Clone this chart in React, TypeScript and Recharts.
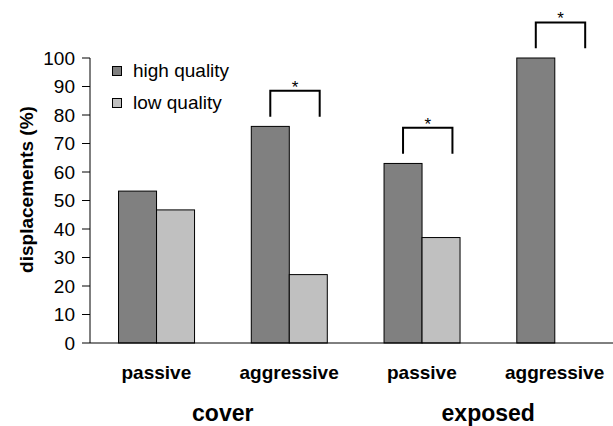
import { BarChart, Bar, XAxis, YAxis, Legend, Label } from 'recharts'

// displacement outcomes per habitat / contest type
const conditions = ['passive', 'aggressive', 'passive', 'aggressive']
const habitats = ['cover', 'cover', 'exposed', 'exposed']
const highQuality = [53.3, 76, 63, 100]
const lowQuality = [46.7, 24, 37, 0]
const significant = [false, true, true, true]
const yTicks = [0, 10, 20, 30, 40, 50, 60, 70, 80, 90, 100]

const data = conditions.map((condition, i) => ({
  condition,
  habitat: habitats[i],
  high: highQuality[i],
  low: lowQuality[i],
  sig: significant[i],
}))

const FONT = '"Liberation Sans", Arial, Helvetica, sans-serif'
const CHART_W = 640
const CHART_H = 426

// rect with an optional significance bracket spanning the pair
function HighBar(props: any) {
  const { x, y, width, height, fill, payload } = props
  if (!height || height <= 0) return null
  const rect = <rect x={x} y={y} width={width} height={height} fill={fill} stroke="#000" strokeWidth={1} />
  if (!payload.sig) return rect
  const ppu = height / payload.high
  const left = x + width / 2
  const right = left + width * 1.3
  const bottom = y - 3.4 * ppu
  const top = y - 12.5 * ppu
  return (
    <g>
      {rect}
      <path
        d={`M${left},${bottom}V${top}H${right}V${bottom}`}
        fill="none"
        stroke="#000"
        strokeWidth={2}
      />
      <text x={(left + right) / 2} y={top + 2} textAnchor="middle" fontFamily={FONT} fontSize={17} fill="#000">
        *
      </text>
    </g>
  )
}

function PlainBar(props: any) {
  const { x, y, width, height, fill } = props
  if (!height || height <= 0) return null
  return <rect x={x} y={y} width={width} height={height} fill={fill} stroke="#000" strokeWidth={1} />
}

function ConditionTick({ x, y, payload }: any) {
  return (
    <text x={x} y={y + 29} textAnchor="middle" dominantBaseline="central" fontFamily={FONT} fontSize={19} fontWeight="bold" fill="#000">
      {payload.value}
    </text>
  )
}

function HabitatTick({ x, y, payload }: any) {
  return (
    <text x={x} y={y + 20} textAnchor="middle" dominantBaseline="central" fontFamily={FONT} fontSize={23} fontWeight="bold" fill="#000">
      {payload.value}
    </text>
  )
}

function QualityLegend({ payload }: any) {
  return (
    <div style={{ fontFamily: FONT, fontSize: 19, color: '#000' }}>
      {(payload || []).map((p: any) => (
        <div key={p.value} style={{ display: 'flex', alignItems: 'center', height: 32 }}>
          <span
            style={{
              display: 'inline-block',
              width: 8,
              height: 8,
              border: '1px solid #000',
              background: p.color,
              marginRight: 11,
            }}
          />
          {p.value}
        </div>
      ))}
    </div>
  )
}

function YTitle(props: any) {
  const { x, y, height } = props.viewBox
  const cx = x + 25
  const cy = y + height / 2 - 11
  return (
    <text
      x={cx}
      y={cy}
      transform={`rotate(-90, ${cx}, ${cy})`}
      textAnchor="middle"
      dominantBaseline="central"
      fontFamily={FONT}
      fontSize={19}
      fontWeight="bold"
      fill="#000"
    >
      displacements (%)
    </text>
  )
}

export default function App() {
  return (
    <div style={{ position: 'fixed', left: 0, top: 0, width: 613, height: 426, overflow: 'hidden', background: '#fff' }}>
      <BarChart
        width={CHART_W}
        height={CHART_H}
        data={data}
        margin={{ top: 58, right: 19, left: 1, bottom: 0 }}
        barCategoryGap="21.5%"
        barGap={0}
      >
        <XAxis
          dataKey="condition"
          stroke="#000"
          tickLine={false}
          tickSize={0}
          tickMargin={0}
          height={50}
          interval={0}
          tick={<ConditionTick />}
        />
        <XAxis
          xAxisId="habitat"
          dataKey="habitat"
          allowDuplicatedCategory={false}
          axisLine={false}
          tickLine={false}
          tickSize={0}
          tickMargin={0}
          height={33}
          interval={0}
          tick={<HabitatTick />}
        />
        <YAxis
          width={89}
          domain={[0, 100]}
          ticks={yTicks}
          interval={0}
          stroke="#000"
          tickSize={8}
          tickMargin={7}
          tick={{ fill: '#000', fontSize: 19, fontFamily: FONT }}
        >
          <Label content={<YTitle />} />
        </YAxis>
        <Legend
          layout="vertical"
          align="center"
          verticalAlign="middle"
          content={<QualityLegend />}
          wrapperStyle={{ top: 55, left: 112, width: 'auto' }}
        />
        <Bar dataKey="high" name="high quality" fill="#808080" shape={<HighBar />} isAnimationActive={false} />
        <Bar dataKey="low" name="low quality" fill="#c0c0c0" shape={<PlainBar />} isAnimationActive={false} />
      </BarChart>
    </div>
  )
}
